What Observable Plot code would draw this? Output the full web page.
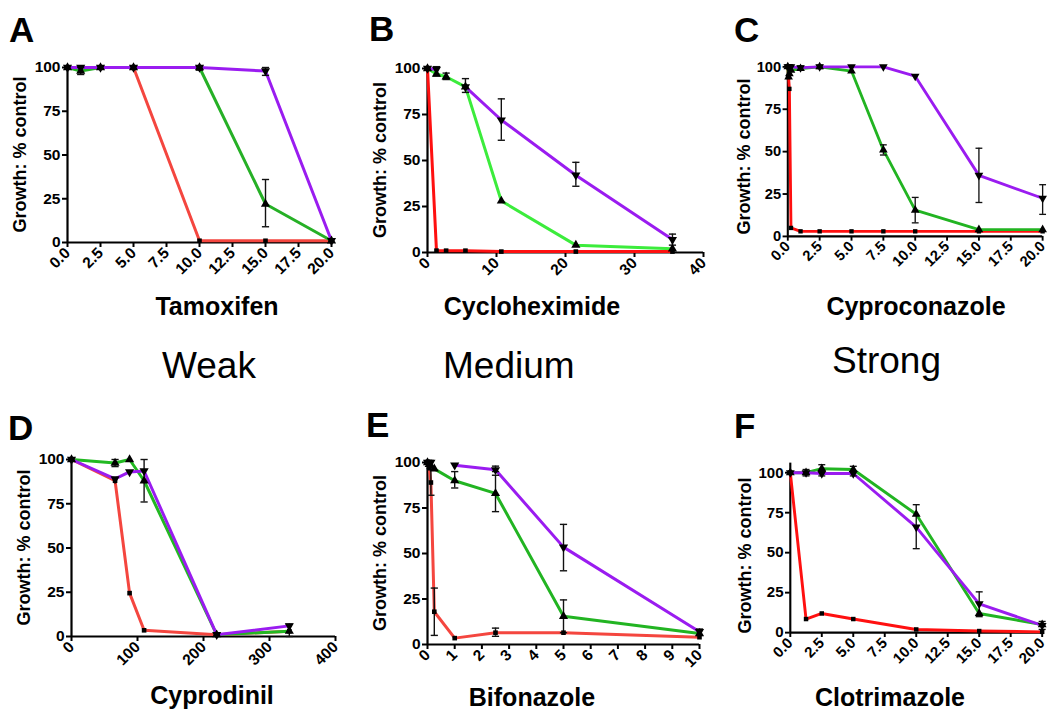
<!DOCTYPE html>
<html><head><meta charset="utf-8">
<script src="https://cdn.jsdelivr.net/npm/d3@7"></script>
<script src="https://cdn.jsdelivr.net/npm/@observablehq/plot@0.6"></script>
<style>
body{margin:0;background:#fff;}
#wrap{position:relative;width:1063px;height:711px;overflow:hidden;background:#fff;font-family:"Liberation Sans",Arial,Helvetica,sans-serif;}
#wrap .panel{position:absolute;}
#wrap svg{overflow:visible;}
#overlay{position:absolute;left:0;top:0;}
</style></head><body><div id="wrap"></div>
<script>
// ---------- DATA ----------
const seriesNames = ["red", "green", "purple"];
const yTicks = [0, 25, 50, 75, 100];

// A: Tamoxifen
const tamoxifenX = [0, 1, 2.5, 5, 10, 15, 20];
const tamoxifenRed = [100, 100, 100, 100, 1, 1, 1];
const tamoxifenGreen = [100, 98, 100, 100, 100, 22, 1];
const tamoxifenPurple = [100, 100, 100, 100, 100, 98, 1];
const tamoxifenErr = [[1, "green", 96, 100], [2.5, "purple", 99, 101], [5, "purple", 99, 101], [10, "purple", 98.5, 101], [15, "purple", 95.5, 100], [15, "green", 9, 36]];
const tamoxifenTicks = [0, 2.5, 5, 7.5, 10, 12.5, 15, 17.5, 20];

// B: Cycloheximide
const cycloX = [0, 1.3, 2.7, 5.5, 10.7, 21.5, 35.5];
const cycloRed = [100, 1, 1, 1, 0.5, 0.5, 0.5];
const cycloGreen = [100, 97, 95.5, 90, 28, 4, 2];
const cycloPurple = [100, 99.5, null, 90, 72, 42, 7];
const cycloErr = [[1.3, "purple", 96, 101], [2.7, "green", 94, 97.5], [5.5, "purple", 87, 94.5], [10.7, "purple", 61, 83.5], [21.5, "purple", 36, 49], [35.5, "purple", 4, 10]];
const cycloTicks = [0, 10, 20, 30, 40];

// C: Cyproconazole
const cyproconX = [0, 0.0625, 0.125, 0.25, 1, 2.5, 5, 7.5, 10, 15, 20];
const cyproconRed = [100, 94, 87, 5, 3, 3, 3, 3, 3, 3, 3];
const cyproconGreen = [100, 94, 96, 98, 99, 100, 97.5, 51, 15.5, 4, 4];
const cyproconPurple = [100, 100, 100, 100, 99.5, 100, 100, 100, 94.5, 36, 22.5];
const cyproconErr = [[1, "purple", 98, 100.5], [2.5, "purple", 99, 101], [7.5, "green", 48, 54], [10, "green", 8, 23], [15, "purple", 20, 52], [20, "purple", 13, 30.5]];
const cyproconTicks = [0, 2.5, 5, 7.5, 10, 12.5, 15, 17.5, 20];

// D: Cyprodinil
const cyprodX = [0, 66, 88, 110, 220, 330];
const cyprodRed = [100, 88, 24.5, 3.5, 1, 3];
const cyprodGreen = [100, 98, 100, 88, 1, 3];
const cyprodPurple = [100, 89, 93, 93.5, 1, 6];
const cyprodErr = [[66, "green", 96, 100], [110, "green", 76, 100], [330, "purple", 0, 7]];
const cyprodTicks = [0, 100, 200, 300, 400];

// E: Bifonazole
const bifonX = [0, 0.0625, 0.125, 0.25, 1, 2.5, 5, 10];
const bifonRed = [100, 97, 89, 18, 3.5, 6.5, 6.5, 4];
const bifonGreen = [100, 99, 98, 96.5, 90, 83, 15.5, 6];
const bifonPurple = [100, 100, 100, null, 98.5, 96, 53.5, 7];
const bifonErr = [[0.125, "red", 82, 96], [0.25, "red", 5, 31], [1, "green", 86, 95], [2.5, "green", 73, 93], [2.5, "purple", 95, 98], [2.5, "red", 4.5, 9], [5, "purple", 40.5, 66], [5, "green", 6.5, 24.5], [10, "purple", 5, 8.5]];
const bifonTicks = [0, 1, 2, 3, 4, 5, 6, 7, 8, 9, 10];

// F: Clotrimazole
const clotX = [0, 1.25, 2.5, 5, 10, 15, 20];
const clotRed = [100, 8.5, 12, 8.5, 2, 1, 0.5];
const clotGreen = [100, 100, 102.5, 102, 74, 12, 5];
const clotPurple = [100, 100, 99.5, 99.5, 66, 18, 4.5];
const clotErr = [[1.25, "purple", 98, 102], [2.5, "green", 98, 105], [5, "green", 98, 104], [10, "purple", 52.5, 80], [15, "purple", 10, 25.5], [20, "purple", 2, 7]];
const clotTicks = [0, 2.5, 5, 7.5, 10, 12.5, 15, 17.5, 20];

const panelLetters = ["A", "B", "C", "D", "E", "F"];
const drugNames = ["Tamoxifen", "Cycloheximide", "Cyproconazole", "Cyprodinil", "Bifonazole", "Clotrimazole"];
const strengthLabels = ["Weak", "Medium", "Strong"];
const yLabel = "Growth: % control";

// ---------- LAYOUT / STYLE ----------
const panels = [
  {x: tamoxifenX, red: tamoxifenRed, green: tamoxifenGreen, purple: tamoxifenPurple, err: tamoxifenErr, ticks: tamoxifenTicks, fmt: ".1f",
   xDom: [0, 20], yMax: 100, box: [67, 331, 67, 242], colors: {red: "#f4463f", green: "#26b026", purple: "#9a1cf0"}},
  {x: cycloX, red: cycloRed, green: cycloGreen, purple: cycloPurple, err: cycloErr, ticks: cycloTicks, fmt: "d",
   xDom: [0, 40], yMax: 100, box: [427, 703, 68, 252], colors: {red: "#ff1010", green: "#3cec3c", purple: "#9a1cf0"}},
  {x: cyproconX, red: cyproconRed, green: cyproconGreen, purple: cyproconPurple, err: cyproconErr, ticks: cyproconTicks, fmt: ".1f",
   xDom: [0, 20], yMax: 100, box: [791, 1060, 67, 246], colors: {red: "#ff1010", green: "#22b422", purple: "#9a1cf0"}},
  {x: cyprodX, red: cyprodRed, green: cyprodGreen, purple: cyprodPurple, err: cyprodErr, ticks: cyprodTicks, fmt: "d",
   xDom: [0, 400], yMax: 100, box: [71, 335, 459, 636], colors: {red: "#f4463f", green: "#22b922", purple: "#9a1cf0"}},
  {x: bifonX, red: bifonRed, green: bifonGreen, purple: bifonPurple, err: bifonErr, ticks: bifonTicks, fmt: "d",
   xDom: [0, 10], yMax: 100, box: [427, 699, 462, 644], colors: {red: "#f4463f", green: "#22b422", purple: "#9a1cf0"}},
  {x: clotX, red: clotRed, green: clotGreen, purple: clotPurple, err: clotErr, ticks: clotTicks, fmt: ".1f",
   xDom: [0, 20], yMax: 106, box: [792, 1052, 463, 638], colors: {red: "#ff1010", green: "#22b422", purple: "#9a1cf0"}}
];

const capSymbol = {draw(ctx, size) { const w = Math.sqrt(size / Math.PI); ctx.moveTo(-w, 0); ctx.lineTo(w, 0); }};
const markerSymbol = {red: "square", green: "triangle", purple: "triangle"};
const markerRotate = {red: 0, green: 0, purple: 180};
const markerR = {red: 2.6, green: 3.4, purple: 3.4};

const wrap = document.getElementById("wrap");
const ml = 70, mr = 22, mt = 12, mb = 55;
const tickFont = {fontSize: 15.5, fontWeight: "bold", fontFamily: '"Liberation Sans", Arial, Helvetica, sans-serif'};

panels.forEach((p) => {
  const [x0, x1, yTop, yBot] = p.box;
  const marks = [];
  marks.push(Plot.ruleY([0], {stroke: "black", strokeWidth: 2.2}));
  marks.push(Plot.ruleX([p.xDom[0]], {y1: 0, y2: p.yMax, stroke: "black", strokeWidth: 2.2}));
  marks.push(Plot.axisY({ticks: yTicks, tickSize: 5, tickPadding: 2, strokeWidth: 2, label: null, tickFormat: "d", ...tickFont}));
  marks.push(Plot.axisX({ticks: p.ticks, tickSize: 5, tickPadding: 3, strokeWidth: 2, label: null, tickFormat: d3.format(p.fmt), tickRotate: -45, ...tickFont}));
  for (const s of seriesNames) {
    const rows = p.x.map((xv, i) => ({x: xv, y: p[s][i]}));
    marks.push(Plot.line(rows, {x: "x", y: "y", stroke: p.colors[s], strokeWidth: 3}));
  }
  const errs = p.err.map(([xv, s, lo, hi]) => ({x: xv, s, lo, hi}));
  marks.push(Plot.ruleX(errs, {x: "x", y1: "lo", y2: "hi", stroke: "#111", strokeWidth: 1.4}));
  const caps = errs.flatMap(e => [{x: e.x, y: e.lo}, {x: e.x, y: e.hi}]);
  marks.push(Plot.dot(caps, {x: "x", y: "y", symbol: capSymbol, r: 3.6, stroke: "#111", strokeWidth: 1.4, fill: "none"}));
  for (const s of seriesNames) {
    const rows = p.x.map((xv, i) => ({x: xv, y: p[s][i]})).filter(d => d.y != null);
    marks.push(Plot.dot(rows, {x: "x", y: "y", symbol: markerSymbol[s], rotate: markerRotate[s], r: markerR[s], fill: "black", stroke: "none"}));
  }
  const chart = Plot.plot({
    width: (x1 - x0) + ml + mr,
    height: (yBot - yTop) + mt + mb,
    marginLeft: ml, marginRight: mr, marginTop: mt, marginBottom: mb,
    x: {domain: p.xDom},
    y: {domain: [0, p.yMax]},
    style: {fontFamily: '"Liberation Sans", Arial, Helvetica, sans-serif', fontWeight: "bold", fontSize: "16px", color: "black", background: "none", overflow: "visible"},
    marks
  });
  const div = document.createElement("div");
  div.className = "panel";
  div.style.left = (x0 - ml) + "px";
  div.style.top = (yTop - mt) + "px";
  div.appendChild(chart);
  wrap.appendChild(div);
});

// ---------- TEXT OVERLAY ----------
const ns = "http://www.w3.org/2000/svg";
const ov = document.createElementNS(ns, "svg");
ov.setAttribute("id", "overlay");
ov.setAttribute("width", 1063);
ov.setAttribute("height", 711);
function addText(str, x, y, opts = {}) {
  const t = document.createElementNS(ns, "text");
  t.textContent = str;
  t.setAttribute("x", x); t.setAttribute("y", y);
  t.setAttribute("font-family", '"Liberation Sans", Arial, Helvetica, sans-serif');
  t.setAttribute("font-size", opts.size || 15);
  t.setAttribute("font-weight", opts.weight || "bold");
  t.setAttribute("text-anchor", opts.anchor || "start");
  if (opts.baseline) t.setAttribute("dominant-baseline", opts.baseline);
  if (opts.transform) t.setAttribute("transform", opts.transform);
  t.setAttribute("fill", "black");
  ov.appendChild(t);
}
const letterPos = [[9, 42], [369, 41], [734, 42], [8, 440], [366, 437], [734, 438]];
panelLetters.forEach((L, i) => addText(L, letterPos[i][0], letterPos[i][1], {size: 35}));
const titlePos = [[217, 315], [532, 315], [916, 315], [212, 704], [532, 706], [890, 706]];
drugNames.forEach((n, i) => addText(n, titlePos[i][0], titlePos[i][1], {size: 25, anchor: "middle"}));
const strengthPos = [[162, 378], [443, 378], [832, 373]];
strengthLabels.forEach((s, i) => addText(s, strengthPos[i][0], strengthPos[i][1], {size: 37, weight: "normal"}));
panels.forEach((p) => {
  const [x0, x1, yTop, yBot] = p.box;
  const cx = x0 - 47, cy = (p.yMax === 100 ? (yTop + yBot) / 2 : (yTop + 10 + yBot) / 2);
  addText(yLabel, cx, cy, {size: 18, anchor: "middle", baseline: "central", transform: `rotate(-90 ${cx} ${cy})`});
});
wrap.appendChild(ov);
</script></body></html>
